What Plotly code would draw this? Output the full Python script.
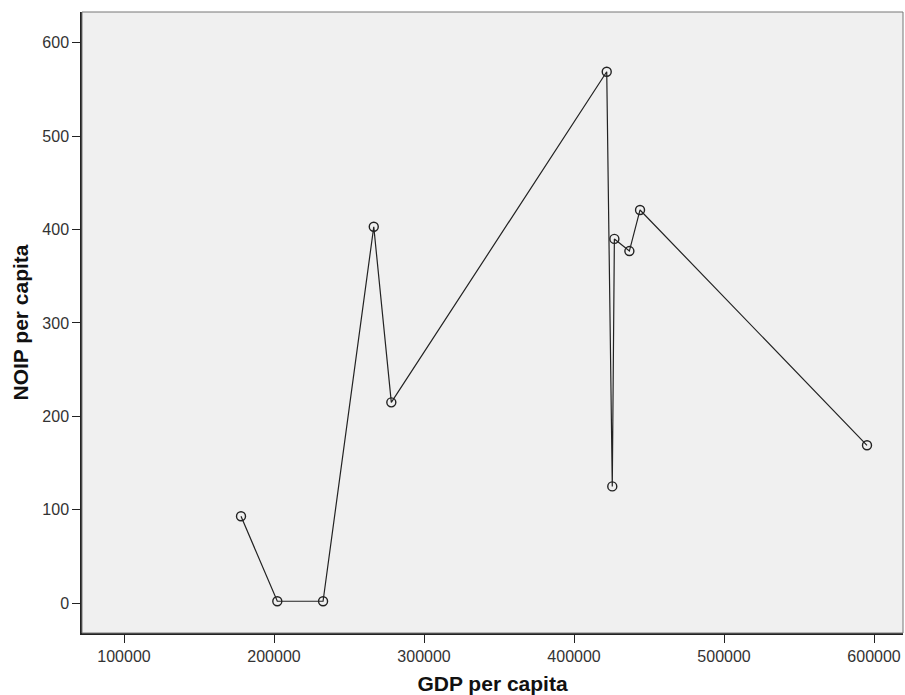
import plotly.graph_objects as go

gdp = [178000, 202200, 232700, 266500, 278200, 421800, 425500, 426900, 436900, 444000, 595300]
noip = [93, 2, 2, 403, 215, 569, 125, 390, 377, 421, 169]

x_ticks = [100000, 200000, 300000, 400000, 500000, 600000]
y_ticks = [0, 100, 200, 300, 400, 500, 600]

fig = go.Figure()
fig.add_trace(go.Scatter(
    x=gdp, y=noip, mode="lines+markers",
    line=dict(color="#222222", width=1.2),
    marker=dict(symbol="circle-open", size=9, color="#222222", line=dict(width=1.4)),
    showlegend=False,
))

fig.update_layout(
    width=905, height=695,
    margin=dict(l=82, r=2, t=12, b=62, autoexpand=False),
    paper_bgcolor="white",
    plot_bgcolor="#f0f0f0",
    font=dict(family="Arial, Liberation Sans, sans-serif", size=16, color="#333333"),
    shapes=[dict(type="rect", xref="paper", yref="paper", x0=0, y0=0, x1=1, y1=1,
                 line=dict(color="#777777", width=1), layer="above")],
)
fig.update_xaxes(
    range=[72000, 619300], tickvals=x_ticks, ticktext=[str(v) for v in x_ticks],
    showgrid=False, zeroline=False, showline=True, linecolor="#222222", linewidth=1.5,
    ticks="outside", ticklen=8, tickcolor="#222222", tickfont=dict(size=16),
    title=dict(text="<b>GDP per capita</b>", font=dict(size=21, color="#111111"), standoff=12),
)
fig.update_yaxes(
    range=[-32, 633], tickvals=y_ticks, ticktext=[str(v) for v in y_ticks],
    showgrid=False, zeroline=False, showline=True, linecolor="#222222", linewidth=1.5,
    ticks="outside", ticklen=8, tickcolor="#222222", tickfont=dict(size=16),
    title=dict(text="<b>NOIP per capita</b>", font=dict(size=21, color="#111111"), standoff=8),
)

fig.write_html("out.html", config={"displayModeBar": False},
               post_script="document.body.style.margin='0';document.body.style.overflow='hidden';")
